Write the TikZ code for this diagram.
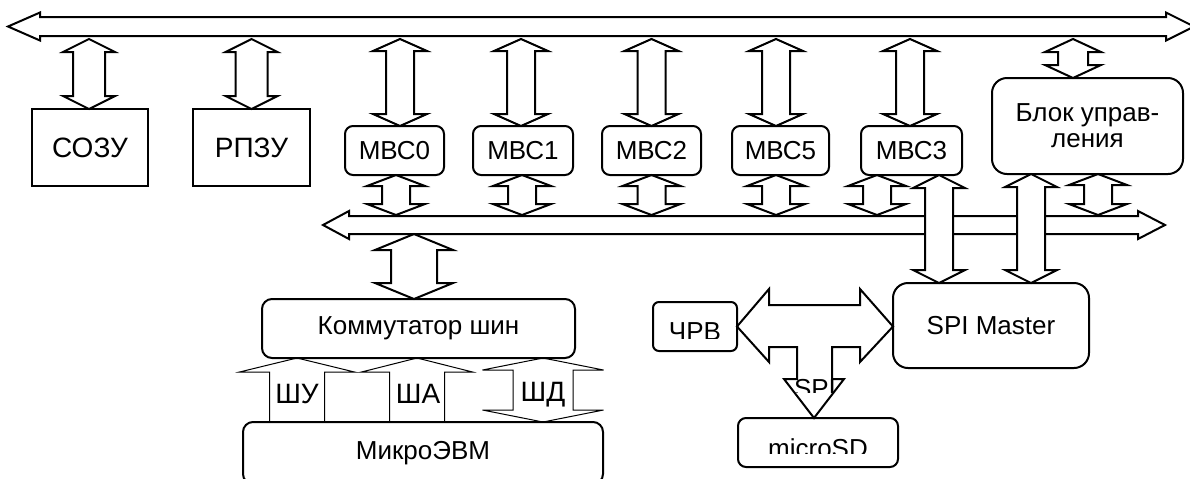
\documentclass[tikz,border=0pt]{standalone}
\usepackage{fontspec}
\setmainfont{Liberation Sans}
\usetikzlibrary{calc}
\tikzset{
  barrow/.style={draw=black,line width=1pt,line join=miter},
  thinarr/.style={draw=black,line width=0.5pt},
  box/.style={draw,line width=1pt,fill=white,inner sep=0pt,outer sep=0pt,font=\fontsize{13}{13}\selectfont},
  rbox/.style={box,rounded corners=4pt},
  lbl/.style={inner sep=0pt,font=\fontsize{13}{13}\selectfont},
  bigtxt/.style={font=\fontsize{14}{14}\selectfont},
}
% double block arrow: [opts]{x point}{bottom point}{top point}{shaft half}{head half}{head length}
\newcommand\dblarr[7][]{%
  \draw[barrow,#1] let \p1=#2, \p2=#3, \p3=#4 in
  (\x1,\y3) -- (\x1+#6,\y3-#7) -- (\x1+#5,\y3-#7) -- (\x1+#5,\y2+#7) -- (\x1+#6,\y2+#7) -- (\x1,\y2)
  -- (\x1-#6,\y2+#7) -- (\x1-#5,\y2+#7) -- (\x1-#5,\y3-#7) -- (\x1-#6,\y3-#7) -- cycle;}
% single up block arrow, open at the bottom
\newcommand\uparr[7][]{%
  \draw[thinarr,#1] let \p1=#2, \p2=#3, \p3=#4 in
  (\x1-#5,\y2) -- (\x1-#5,\y3-#7) -- (\x1-#6,\y3-#7) -- (\x1,\y3) -- (\x1+#6,\y3-#7) -- (\x1+#5,\y3-#7) -- (\x1+#5,\y2);}
\begin{document}
\begin{tikzpicture}[x=0.5pt,y=-0.5pt]
\useasboundingbox (0,0) rectangle (1190,478);
% buses
\draw[barrow] (8,26.5) -- (40,12.5) -- (40,17) -- (1166,17) -- (1166,12.5) -- (1194,26.5) -- (1166,40.5) -- (1166,36) -- (40,36) -- (40,40.5) -- cycle;
\draw[barrow] (323,225) -- (349,211) -- (349,216) -- (1138,216) -- (1138,211) -- (1165,225) -- (1138,239) -- (1138,234) -- (349,234) -- (349,239) -- cycle;
\coordinate (topbus) at (0,39);
\coordinate (lowbusN) at (0,215);
\coordinate (lowbusS) at (0,234);
% blocks
\node[box,bigtxt,minimum width=58pt,minimum height=38.5pt] (sozu) at (90,147.5) {СОЗУ};
\node[box,bigtxt,minimum width=58.5pt,minimum height=38.5pt] (rpzu) at (251.5,147.5) {РПЗУ};
\node[rbox,minimum width=49.5pt,minimum height=24.5pt] (mvs0) at (394.5,150.5) {МВС0};
\node[rbox,minimum width=50pt,minimum height=24.5pt] (mvs1) at (523,150.5) {МВС1};
\node[rbox,minimum width=49.5pt,minimum height=24.5pt] (mvs2) at (651.5,150.5) {МВС2};
\node[rbox,minimum width=48.5pt,minimum height=24.5pt] (mvs5) at (780.5,150.5) {МВС5};
\node[rbox,minimum width=50.5pt,minimum height=24.5pt] (mvs3) at (911.5,150.5) {МВС3};
\node[box,rounded corners=7.5pt,align=center,minimum width=95.5pt,minimum height=48pt] (blok) at (1087.5,126) {Блок управ-\\ления};
\node[box,rounded corners=5pt,minimum width=156.5pt,minimum height=29.5pt] (komm) at (418.5,328.5) {Коммутатор шин};
\node[box,rounded corners=5pt,minimum width=180pt,minimum height=31pt] (mikro) at (423,453) {МикроЭВМ};
\node[box,rounded corners=3pt,minimum width=42pt,minimum height=24.5pt] (chrv) at (695,326.5) {};
\node[box,rounded corners=7.5pt,minimum width=98pt,minimum height=42.5pt] (spim) at (991,325.5) {SPI Master};
\node[box,rounded corners=4pt,minimum width=80pt,minimum height=24.5pt] (msd) at (818,442.5) {};
% clipped texts
\begin{scope}
  \clip (650,300) rectangle (740,338);
  \node[lbl,anchor=base] (chrvt) at (695,340) {ЧРВ};
\end{scope}
\begin{scope}
  \clip (740,420) rectangle (896,453);
  \node[lbl,anchor=base] (msdt) at (818,457) {microSD};
\end{scope}
% arrows to the top bus
\dblarr{([xshift=-0.5pt]sozu.north)}{(sozu.north)}{(topbus)}{8pt}{13pt}{6.5pt}
\dblarr{(rpzu.north)}{(rpzu.north)}{(topbus)}{8pt}{13pt}{6.5pt}
\foreach \nm/\sh in {mvs0/2.75pt, mvs1/-1pt, mvs2/0pt, mvs5/-2.25pt, mvs3/-0.75pt}{
  \dblarr{([xshift=\sh]\nm.north)}{(\nm.north)}{(topbus)}{7pt}{13.5pt}{6pt}}
\dblarr{([xshift=-7.25pt]blok.north)}{(blok.north)}{(topbus)}{7.5pt}{14pt}{6.5pt}
% arrows to the lower bus
\foreach \nm/\sh in {mvs0/0.75pt, mvs1/-0.5pt, mvs2/0pt, mvs5/-2.25pt, mvs3/-17.25pt, blok/5.25pt}{
  \dblarr{([xshift=\sh]\nm.south)}{(lowbusN)}{(\nm.south)}{7pt}{14.5pt}{5.5pt}}
% SPI master links
\dblarr[fill=white]{([xshift=-26pt]spim.north)}{(spim.north)}{(mvs3.south)}{7pt}{13pt}{6.5pt}
\dblarr[fill=white]{([xshift=20pt]spim.north)}{(spim.north)}{(blok.south)}{7pt}{13pt}{6.5pt}
% bus switch
\dblarr{([xshift=-2.25pt]komm.north)}{(komm.north)}{(lowbusS)}{11.5pt}{19.5pt}{8pt}
% microcomputer buses
\uparr{([xshift=-60.75pt]komm.south)}{(mikro.north)}{(komm.south)}{13.75pt}{28.75pt}{7pt}
\uparr{([xshift=-0.75pt]komm.south)}{(mikro.north)}{(komm.south)}{13.75pt}{27.75pt}{7pt}
\dblarr[thinarr]{([xshift=62.25pt]komm.south)}{(mikro.north)}{(komm.south)}{15pt}{30.25pt}{6pt}
\node[lbl,bigtxt,anchor=base] (shu) at (297,403) {ШУ};
\node[lbl,bigtxt,anchor=base] (sha) at (418,403) {ША};
\node[lbl,bigtxt,anchor=base] (shd) at (543,401) {ШД};
% SPI T-arrow
\draw[barrow] let \p1=(chrv.east), \p2=(spim.west), \p3=([xshift=-2pt]msd.north) in
  (\x1,\y1) -- (\x1+16pt,\y1+18.75pt) -- (\x1+16pt,\y1+10.75pt) -- (\x2-16.5pt,\y1+10.75pt)
  -- (\x2-16.5pt,\y1+18.75pt) -- (\x2,\y1) -- (\x2-16.5pt,\y1-17.75pt) -- (\x2-16.5pt,\y1-10.25pt)
  -- (\x3+9pt,\y1-10.25pt) -- (\x3+9pt,\y3+19.5pt) -- (\x3+15pt,\y3+19.5pt) -- (\x3,\y3)
  -- (\x3-15pt,\y3+19.5pt) -- (\x3-8.5pt,\y3+19.5pt) -- (\x3-8.5pt,\y1-10.25pt)
  -- (\x1+16pt,\y1-10.25pt) -- (\x1+16pt,\y1-17.75pt) -- cycle;
\begin{scope}
  \clip (790,370) rectangle (840,392);
  \node[lbl,anchor=base] (spit) at (815,397) {SPI};
\end{scope}
\end{tikzpicture}
\end{document}
